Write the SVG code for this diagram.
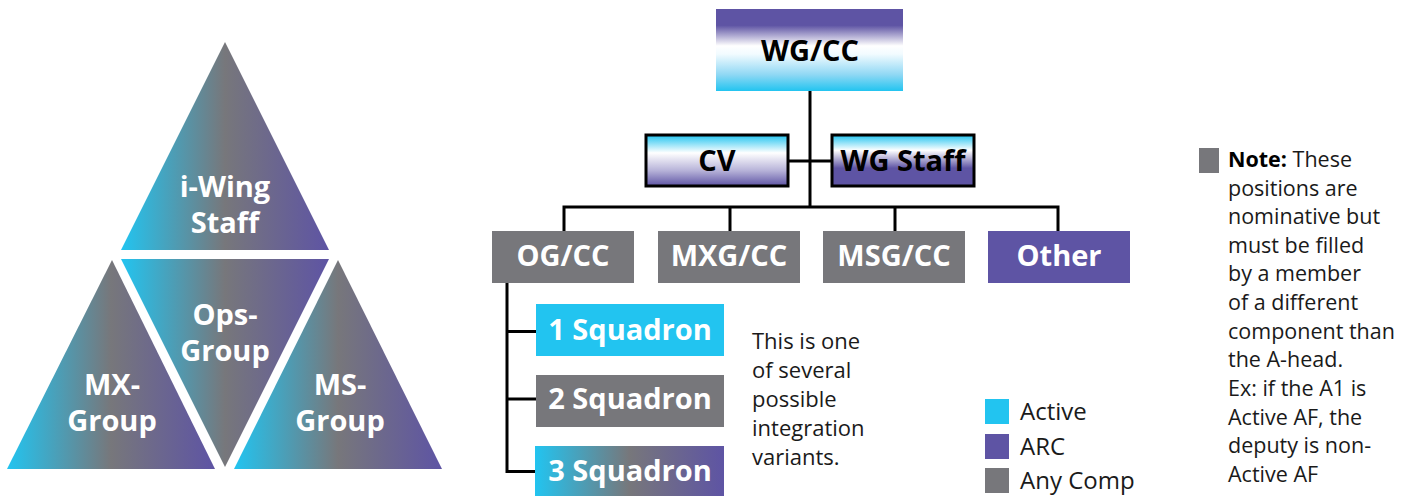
<svg xmlns="http://www.w3.org/2000/svg" width="1406" height="496" viewBox="0 0 1406 496">
<defs>
<linearGradient id="hgrad" x1="0" y1="0" x2="1" y2="0">
<stop offset="0" stop-color="#22c4f0"/>
<stop offset="0.5" stop-color="#77777b"/>
<stop offset="1" stop-color="#5e54a4"/>
</linearGradient>
<linearGradient id="wgcc" x1="0" y1="0" x2="0" y2="1">
<stop offset="0" stop-color="#5e54a4"/>
<stop offset="0.2" stop-color="#5e54a4"/>
<stop offset="0.45" stop-color="#ffffff"/>
<stop offset="0.55" stop-color="#f2fbff"/>
<stop offset="0.8" stop-color="#90d8f4"/>
<stop offset="1" stop-color="#22c4f0"/>
</linearGradient>
<linearGradient id="cv" x1="0" y1="0" x2="0" y2="1">
<stop offset="0" stop-color="#22c4f0"/>
<stop offset="0.35" stop-color="#ffffff"/>
<stop offset="0.7" stop-color="#b6b2d8"/>
<stop offset="1" stop-color="#5e54a4"/>
</linearGradient>
<linearGradient id="wgs" x1="0" y1="0" x2="0" y2="1">
<stop offset="0" stop-color="#22c4f0"/>
<stop offset="0.3" stop-color="#ffffff"/>
<stop offset="0.65" stop-color="#5e54a4"/>
<stop offset="1" stop-color="#5e54a4"/>
</linearGradient>
<style>
.tri{fill:url(#hgrad)}
.tt{font-family:"Open Sans","Noto Sans",sans-serif;font-weight:700;font-size:29px;fill:#ffffff;text-anchor:middle}
.bt{font-family:"Open Sans","Noto Sans",sans-serif;font-weight:700;font-size:29px;text-anchor:middle}
.wt{fill:#ffffff}
.kt{fill:#000000}
.gray{fill:#77777b}
.cyan{fill:#22c4f0}
.purp{fill:#5e54a4}
.conn{stroke:#000;stroke-width:3;fill:none}
.body{font-family:"Open Sans","Noto Sans",sans-serif;font-size:22px;fill:#1a1a1a}
.note{font-family:"Open Sans","Noto Sans",sans-serif;font-size:21.5px;fill:#1a1a1a}
.leg{font-family:"Open Sans","Noto Sans",sans-serif;font-size:24px;fill:#1a1a1a}
</style>
</defs>

<g id="triangles">
<g id="tri-iwing">
<polygon class="tri" points="225,42 121,250 329,250"/>
<text class="tt" x="225" y="197">i-Wing</text>
<text class="tt" x="225" y="233">Staff</text>
</g>
<g id="tri-ops">
<polygon class="tri" points="121,259 329,259 225,467"/>
<text class="tt" x="225" y="325">Ops-</text>
<text class="tt" x="225" y="361">Group</text>
</g>
<g id="tri-mx">
<polygon class="tri" points="112,260 7,469 215,469"/>
<text class="tt" x="112" y="395">MX-</text>
<text class="tt" x="112" y="431">Group</text>
</g>
<g id="tri-ms">
<polygon class="tri" points="338,260 234,469 442,469"/>
<text class="tt" x="340" y="395">MS-</text>
<text class="tt" x="340" y="431">Group</text>
</g>
</g>

<g id="connectors">
<path class="conn" d="M810,91 V207"/>
<path class="conn" d="M788,161 H832"/>
<path class="conn" d="M564,231 V207 H1058 V231"/>
<path class="conn" d="M730,207 V231"/>
<path class="conn" d="M895,207 V231"/>
<path class="conn" d="M507,283 V471.5 H536"/>
<path class="conn" d="M507,331.5 H536"/>
<path class="conn" d="M507,399 H536"/>
</g>

<g id="wgcc">
<rect x="716" y="9" width="187" height="82" fill="url(#wgcc)"/>
<text class="bt kt" x="810" y="61">WG/CC</text>
</g>
<g id="cv">
<rect x="646" y="135" width="142" height="51" fill="url(#cv)" stroke="#000" stroke-width="3"/>
<text class="bt kt" x="717" y="171">CV</text>
</g>
<g id="wgstaff">
<rect x="832" y="135" width="142" height="51" fill="url(#wgs)" stroke="#000" stroke-width="3"/>
<text class="bt kt" x="903" y="171">WG Staff</text>
</g>
<g id="ogcc">
<rect class="gray" x="492" y="231" width="142" height="52"/>
<text class="bt wt" x="563" y="266">OG/CC</text>
</g>
<g id="mxgcc">
<rect class="gray" x="658" y="231" width="142" height="52"/>
<text class="bt wt" x="729" y="266">MXG/CC</text>
</g>
<g id="msgcc">
<rect class="gray" x="823" y="231" width="142" height="52"/>
<text class="bt wt" x="894" y="266">MSG/CC</text>
</g>
<g id="other">
<rect class="purp" x="988" y="231" width="142" height="52"/>
<text class="bt wt" x="1059" y="266">Other</text>
</g>
<g id="sq1">
<rect class="cyan" x="536" y="304" width="188" height="52"/>
<text class="bt wt" x="630" y="340">1 Squadron</text>
</g>
<g id="sq2">
<rect class="gray" x="536" y="375" width="188" height="52"/>
<text class="bt wt" x="630" y="409">2 Squadron</text>
</g>
<g id="sq3">
<rect x="535" y="446" width="189" height="50" fill="url(#hgrad)"/>
<text class="bt wt" x="630" y="481">3 Squadron</text>
</g>

<g id="variants-note">
<text class="body" x="752" y="349">This is one</text>
<text class="body" x="752" y="378">of several</text>
<text class="body" x="752" y="407">possible</text>
<text class="body" x="752" y="436">integration</text>
<text class="body" x="752" y="465">variants.</text>
</g>

<g id="legend">
<rect class="cyan" x="985" y="399" width="24" height="25"/>
<text class="leg" x="1020" y="420">Active</text>
<rect class="purp" x="985" y="434" width="24" height="25"/>
<text class="leg" x="1020" y="455">ARC</text>
<rect class="gray" x="985" y="468" width="24" height="25"/>
<text class="leg" x="1020" y="489">Any Comp</text>
</g>

<g id="note">
<rect class="gray" x="1199" y="148" width="20" height="25"/>
<text class="note" x="1228" y="167"><tspan font-weight="700" fill="#000">Note:</tspan> These</text>
<text class="note" x="1228" y="195.5">positions are</text>
<text class="note" x="1228" y="224">nominative but</text>
<text class="note" x="1228" y="252.5">must be filled</text>
<text class="note" x="1228" y="281">by a member</text>
<text class="note" x="1228" y="310">of a different</text>
<text class="note" x="1228" y="338.5">component than</text>
<text class="note" x="1228" y="367">the A-head.</text>
<text class="note" x="1228" y="396">Ex: if the A1 is</text>
<text class="note" x="1228" y="424.5">Active AF, the</text>
<text class="note" x="1228" y="453">deputy is non-</text>
<text class="note" x="1228" y="482">Active AF</text>
</g>
</svg>
